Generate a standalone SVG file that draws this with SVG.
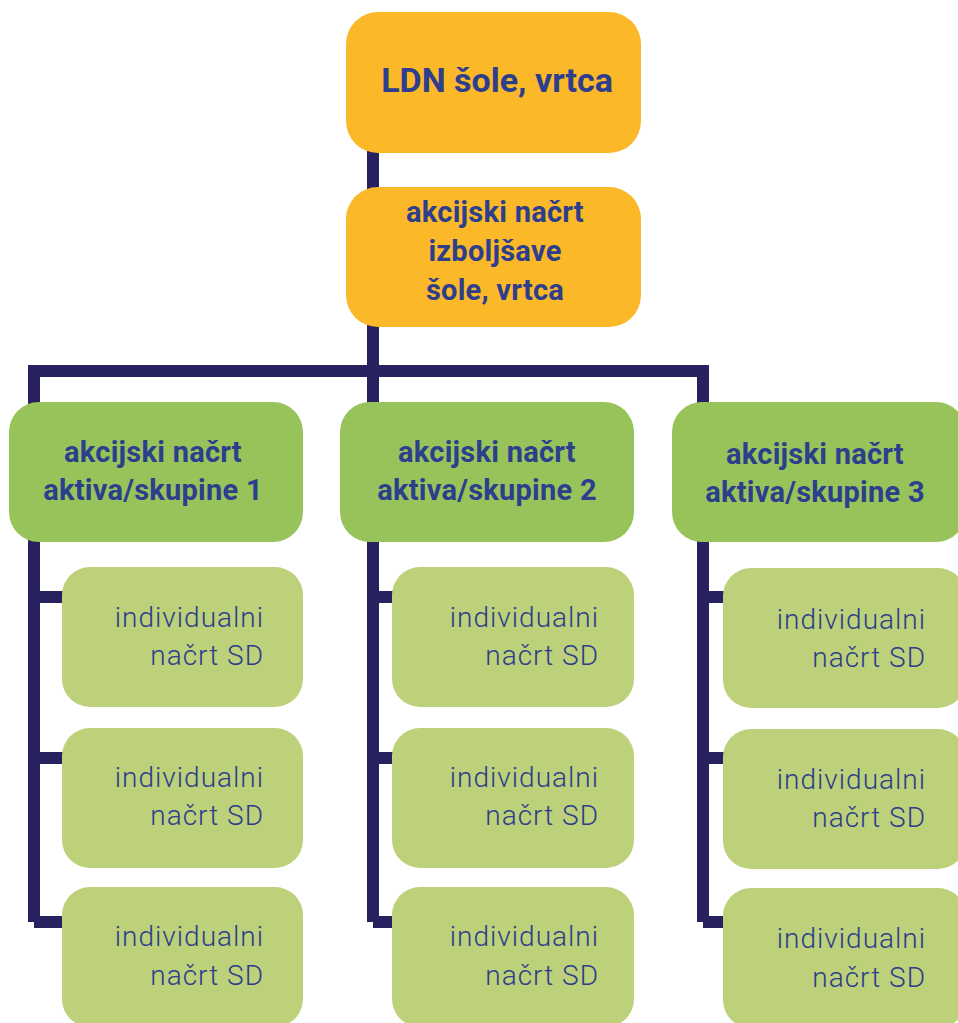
<svg xmlns="http://www.w3.org/2000/svg" width="958" height="1023" viewBox="0 0 958 1023">
<style>
.ln{stroke:#27225f;stroke-width:12;fill:none;stroke-linecap:butt;stroke-linejoin:miter}
.y{fill:#fbb829}
.g{fill:#98c35b}
.lg{fill:#bdd07a}
.tb{font-family:Roboto,"Liberation Sans",sans-serif;font-weight:700;fill:#2c3e8c;text-anchor:middle}
.tm{font-size:29px;letter-spacing:0.25px}
.tr{font-family:Roboto,"Liberation Sans",sans-serif;font-weight:300;fill:#2c3e8c;text-anchor:end;font-size:28px;letter-spacing:1px}
</style>
<g id="connectors">
<path class="ln" d="M373 150 V922"/>
<path class="ln" d="M34 922 V371 H703 V922"/>
<path class="ln" d="M34 597 H64 M34 758 H64 M34 922 H64"/>
<path class="ln" d="M373 597 H394 M373 758 H394 M373 922 H394"/>
<path class="ln" d="M703 597 H725 M703 758 H725 M703 922 H725"/>
</g>
<g id="n_ldn"><rect class="y" x="346" y="12" width="295" height="141" rx="32"/><text class="tb" x="497" y="92" font-size="34">LDN šole, vrtca</text></g>
<g id="n_akcijski"><rect class="y" x="346" y="187" width="295" height="140" rx="32"/><text class="tb tm" x="495" y="222">akcijski načrt</text><text class="tb tm" x="495" y="261">izboljšave</text><text class="tb tm" x="495" y="300">šole, vrtca</text></g>
<g id="n_g1"><rect class="g" x="9" y="402" width="294" height="140" rx="30"/><text class="tb tm" x="153" y="462">akcijski načrt</text><text class="tb tm" x="153" y="500">aktiva/skupine 1</text></g>
<g id="n_g2"><rect class="g" x="340" y="402" width="294" height="140" rx="30"/><text class="tb tm" x="487" y="462">akcijski načrt</text><text class="tb tm" x="487" y="500">aktiva/skupine 2</text></g>
<g id="n_g3"><rect class="g" x="672" y="402" width="294" height="140" rx="30"/><text class="tb tm" x="815" y="464">akcijski načrt</text><text class="tb tm" x="815" y="502">aktiva/skupine 3</text></g>
<g id="n_1a"><rect class="lg" x="62" y="567" width="241" height="140" rx="28"/><text class="tr" x="264" y="627">individualni</text><text class="tr" x="264" y="665">načrt SD</text></g>
<g id="n_1b"><rect class="lg" x="62" y="728" width="241" height="140" rx="28"/><text class="tr" x="264" y="787">individualni</text><text class="tr" x="264" y="825">načrt SD</text></g>
<g id="n_1c"><rect class="lg" x="62" y="887" width="241" height="140" rx="28"/><text class="tr" x="264" y="946">individualni</text><text class="tr" x="264" y="985">načrt SD</text></g>
<g id="n_2a"><rect class="lg" x="392" y="567" width="242" height="140" rx="28"/><text class="tr" x="599" y="627">individualni</text><text class="tr" x="599" y="665">načrt SD</text></g>
<g id="n_2b"><rect class="lg" x="392" y="728" width="242" height="140" rx="28"/><text class="tr" x="599" y="787">individualni</text><text class="tr" x="599" y="825">načrt SD</text></g>
<g id="n_2c"><rect class="lg" x="392" y="887" width="242" height="140" rx="28"/><text class="tr" x="599" y="946">individualni</text><text class="tr" x="599" y="985">načrt SD</text></g>
<g id="n_3a"><rect class="lg" x="723" y="568" width="243" height="140" rx="28"/><text class="tr" x="926" y="629">individualni</text><text class="tr" x="926" y="667">načrt SD</text></g>
<g id="n_3b"><rect class="lg" x="723" y="729" width="243" height="140" rx="28"/><text class="tr" x="926" y="789">individualni</text><text class="tr" x="926" y="827">načrt SD</text></g>
<g id="n_3c"><rect class="lg" x="723" y="888" width="243" height="140" rx="28"/><text class="tr" x="926" y="948">individualni</text><text class="tr" x="926" y="987">načrt SD</text></g>
</svg>
